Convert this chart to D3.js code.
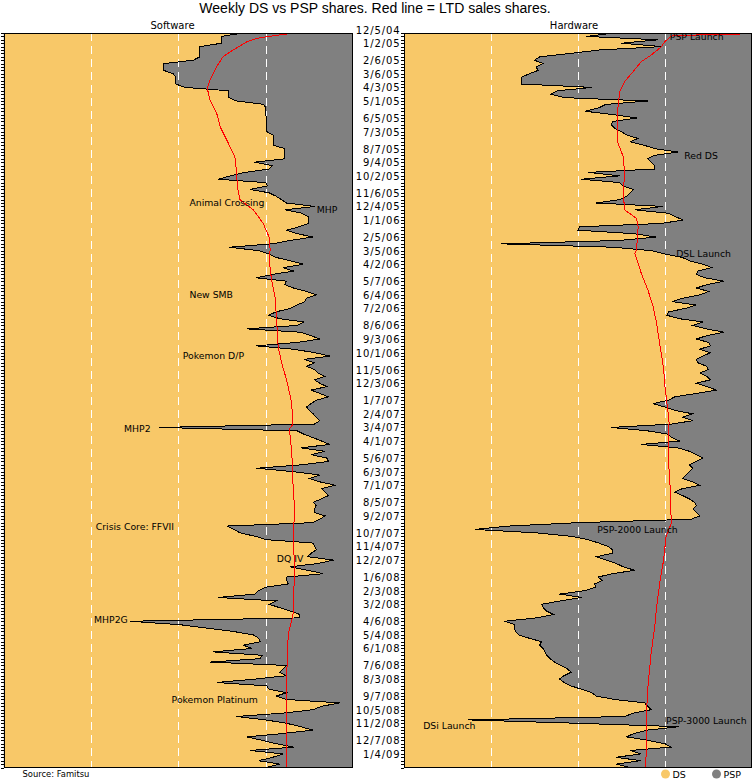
<!DOCTYPE html>
<html><head><meta charset="utf-8">
<script src="https://cdn.jsdelivr.net/npm/d3@7"></script>
<style>body{margin:0;background:#fff}</style>
</head><body><svg id="c" width="756" height="779"></svg>
<script>
// ---------- DATA ----------
const startDate = "12/5/04";      // week 0
const tickLabels = ["12/5/04","1/2/05","2/6/05","3/6/05","4/3/05","5/1/05","6/5/05","7/3/05","8/7/05","9/4/05","10/2/05","11/6/05","12/4/05","1/1/06","2/5/06","3/5/06","4/2/06","5/7/06","6/4/06","7/2/06","8/6/06","9/3/06","10/1/06","11/5/06","12/3/06","1/7/07","2/4/07","3/4/07","4/1/07","5/6/07","6/3/07","7/1/07","8/5/07","9/2/07","10/7/07","11/4/07","12/2/07","1/6/08","2/3/08","3/2/08","4/6/08","5/4/08","6/1/08","7/6/08","8/3/08","9/7/08","10/5/08","11/2/08","12/7/08","1/4/09"];

// weekly DS share (%) of software sales, PSP = 100 - DS
const swDS = [68.6,62.4,62.4,62.4,56.2,56.2,56.2,56.2,54.3,45.9,45.9,45.9,48.6,49.3,49.3,49.3,51.9,64.5,64.5,64.5,
66.7,74.5,75,75,75,75.3,75.3,75.3,75.3,75.3,77.2,77.2,77.2,77.2,80.5,80.5,80.5,80.5,71.8,77,
76,69,65,61.5,75,75.5,70.5,76,78,79.5,81,89.1,80.5,85.3,87.2,87.2,87.2,84.5,81,84,
88.5,82,77,64.5,73,76,78,82,85.8,80,83,77,72.4,81,80.5,83,86.7,89.6,86.7,86.2,
84,82,78,75.8,79,86,84,69.6,85,88,90.5,84,72.4,83,89,93.4,86,89,86.7,89,
90,91.8,89,90.5,92.5,88,90.5,93,89.5,88,86.7,87.5,88.6,89.5,90.5,89,44.6,84,86,88.6,
91,93.4,85,92,88,92.5,93,85,72.4,83,90.5,87.5,90.5,95,91,92,93,91,88.6,89.5,
89,89,92,90.5,88.5,63.9,66,67.7,72,75.3,88.6,89,89.5,88,87,94.4,90,82,87,91.5,
81,81,81.5,75,73,72,61.5,78,76,79,82,84.8,84.8,36.2,50.5,58,65.8,71.5,73,73.5,
68.6,71,60,74,73.4,59,81,80,79,81,72,61,75.3,76,81,78,81,96.3,91,88.6,
80,66.6,75,81,85,88.6,80,69.6,74,78,83,70.5,80,77,73,79,75.3];

// weekly DS share (%) of hardware sales
const hwDS = [60.5,52.4,73,62.5,74,56,48,39,37.5,40,38,38.5,36,33.7,33.7,33.7,54,44,42.3,46,
70,58,56,52,60,67,60,59.6,60.5,62.5,64,67.2,65,69,72,78.7,72,70,71,72,
72,52.9,62,51,62,63,66,65,64,62,55.3,74.4,66.3,75.9,78,80.2,74,50.5,50,66,
72.5,62,28,60,71,75,80,82,86,88.5,84.5,84,86.5,92,87,84,87.6,85,80,77,
84,80.8,76,75.5,79,86,83,86.8,92,87,84,87.6,88,85,88,86,84,84.5,87,87.4,
85,87,88,84,87,89.8,84,77.8,76,71.5,75,78,83,80,83,77,59.6,70,76,77,
79.2,68.2,78.7,82,84,86,84,82,83,82,81,80,83,85,80,77.8,80,82,83.5,84,
83,84,85,82.5,50,30,20.3,38,48,52.9,56,58.6,60,60,55.3,58,61,63,66.3,60,
55.7,57,54.8,55,52,44.7,51,45,39.5,40,41,43,38,28.9,31.8,31.8,32,33,36,39.5,
39,40,40.5,41,42,43.3,45,47,48,46,44.7,46,48,51,54,55.3,60.5,69.2,70,71,
66,63.4,18.4,50,79,70,66,64,70,75,76.6,65,68,61,68,61,65];

// life-to-date DS share (%) read at these weeks
const swLtdWeek  = [0,0.3,1.1,1.6,2.6,5,7,9.9,13.8,16.3,19.7,23.6,27.6,31.5,36.4,40.8,45.2,49.1,52,56,60,63.8,66.8,72.6,77.6,85.4,92.3,97.1,102,108.9,115.3,116.3,123.6,134.4,140.8,146.2,156,164.8,170.7,174.6,176.6,182.4,192.3,216];
const swLtdShare = [96,81,75.3,72.4,69.6,65.7,62.8,61,59.1,58.3,59.1,61,62,63.9,66.2,66.7,66.9,67.7,71.5,74.3,76,76.3,76,76.7,77.7,78.2,78.6,79.6,81,82.5,82.7,81.8,82.5,82.9,83.4,82.9,83.2,83.1,82.9,82,81.5,81.2,81,81];
const hwLtdWeek  = [0,0.3,0.6,0.9,2.6,4,6.5,8.4,11.4,14.3,17.3,21.7,28.5,32.4,36.4,41.3,47.1,52,54.5,57,63.8,64.8,70.7,75.6,80.5,85.4,92.3,98.6,104,110.9,114.8,115.8,125.6,133.9,144.2,148.1,155,160.9,168.7,175.1,182.4,192.3,201.1,211.9,216];
const hwLtdShare = [97,96.5,83.5,76.8,74.9,74,71,68.2,65.8,63.4,62,61.5,61.3,61.5,63,63.4,63,63.4,66.8,67.3,66.8,66.3,68.2,70.1,71.6,72.6,73.6,74.6,75,75.8,76.2,76,76,76.5,76.8,75.3,74.6,73.6,72.6,72,71,70.1,69.6,69.6,69.4];

// annotations: text, week, share (%) where the text starts
const swNotes = [["Animal Crossing",49.9,53.2],["MHP",51.9,89.6],["New SMB",76.9,53.2],["Pokemon D/P",94.9,51.3],["MHP2",116.3,34.5],["Crisis Core: FFVII",145.2,26.4],["DQ IV",154.7,78.2],["MHP2G",172.4,25.9],["Pokemon Platinum",196.2,48.1]];
const hwNotes = [["PSP Launch",1.1,76.4],["Red DS",36.1,80.5],["DSL Launch",64.8,78.2],["PSP-2000 Launch",146.2,55.5],["PSP-3000 Launch",202.3,75.3],["DSi Launch",203.8,5.5]];

const seriesNames = ["DS","PSP"];
const colors = {DS:"#F8C868", PSP:"#808080"};

// ---------- DRAW ----------
const svg = d3.select("#c");
const nWeeks = swDS.length - 1;
const parse = d3.timeParse("%-m/%-d/%y");
const t0 = parse(startDate);
const weekOf = s => Math.round((parse(s) - t0) / (7*864e5));
const FONT = "DejaVu Sans, Verdana, sans-serif";

const y = d3.scaleLinear().domain([0, nWeeks]).range([33, 767.5]);

svg.append("text").attr("x",375).attr("y",13).attr("text-anchor","middle")
  .style("font-family","Liberation Sans, Arial, sans-serif").style("font-size","14px")
  .text("Weekly DS vs PSP shares. Red line = LTD sales shares.");

function panel(x0, x1, hx, title, ds, ltdW, ltdS, notes) {
  const x = d3.scaleLinear().domain([0,100]).range([x0, x1]);
  const g = svg.append("g");
  const id = "clip" + Math.round(x0);
  svg.append("clipPath").attr("id", id).append("rect")
    .attr("x", x0).attr("y", y(0)).attr("width", x1-x0).attr("height", y(nWeeks)-y(0));
  const pg = g.append("g").attr("clip-path", `url(#${id})`);
  pg.append("rect").attr("x", x0).attr("y", y(0)).attr("width", x1-x0).attr("height", y(nWeeks)-y(0))
    .attr("fill", colors.PSP);
  const area = d3.area().y((d,i)=>y(i)).x0(x(0)).x1(d=>x(d));
  pg.append("path").datum(ds).attr("d", area).attr("fill", colors.DS).attr("shape-rendering","crispEdges");
  [25,50,75].forEach(v => pg.append("line").attr("x1", x(v)+0.5).attr("x2", x(v)+0.5)
      .attr("y1", y(0)).attr("y2", y(nWeeks)).attr("stroke","#fff").attr("stroke-width",1)
      .attr("stroke-dasharray","8,5").attr("shape-rendering","crispEdges"));
  const line = d3.line().y((d,i)=>y(i)).x(d=>x(d));
  pg.append("path").datum(ds).attr("d", line).attr("fill","none").attr("stroke","#000")
    .attr("stroke-width",1).attr("shape-rendering","crispEdges");
  const ltd = d3.line().y(d=>y(d[0])).x(d=>x(d[1]));
  pg.append("path").datum(ltdW.map((w,i)=>[w, ltdS[i]])).attr("d", ltd)
    .attr("fill","none").attr("stroke","#FF0000").attr("stroke-width",1).attr("shape-rendering","crispEdges");
  g.append("rect").attr("x", x0+0.5).attr("y", y(0)+0.5).attr("width", x1-x0-1).attr("height", y(nWeeks)-y(0)-1)
    .attr("fill","none").attr("stroke","#000").attr("shape-rendering","crispEdges");
  const ax = g.append("g").attr("transform", `translate(${x0},0)`)
    .call(d3.axisLeft(y).tickValues(d3.range(0, nWeeks+1)).tickSize(3).tickFormat(""));
  ax.select(".domain").remove();
  ax.selectAll("line").attr("stroke","#000").attr("shape-rendering","crispEdges");
  svg.append("text").attr("x", hx).attr("y", 28.5).attr("text-anchor","middle")
    .style("font-family",FONT).style("font-size","10px").text(title);
  notes.forEach(n => svg.append("text").attr("x", x(n[2])).attr("y", y(n[1]) + 3.3)
    .style("font-family",FONT).style("font-size","9.3px").attr("fill","#000").text(n[0]));
  return x;
}

panel(3.5, 353, 172.5, "Software", swDS, swLtdWeek, swLtdShare, swNotes);
panel(404, 752, 574, "Hardware", hwDS, hwLtdWeek, hwLtdShare, hwNotes);

// date labels between panels
tickLabels.forEach(s => svg.append("text").attr("x", 400.5).attr("y", y(weekOf(s)) + 0.5)
  .attr("text-anchor","end").style("font-family",FONT).style("font-size","10px")
  .style("letter-spacing","0.9px").text(s));

// source and legend
svg.append("text").attr("x", 22.5).attr("y", 777).style("font-family",FONT)
  .style("font-size","8.4px").text("Source: Famitsu");
const lg = svg.append("g");
seriesNames.forEach((s,i) => {
  const lx = 665.5 + i*51;
  lg.append("circle").attr("cx", lx).attr("cy", 774).attr("r", 4.5).attr("fill", colors[s]);
  lg.append("text").attr("x", lx+7).attr("y", 777.5).style("font-family",FONT)
    .style("font-size","9.5px").text(s);
});
</script></body></html>
